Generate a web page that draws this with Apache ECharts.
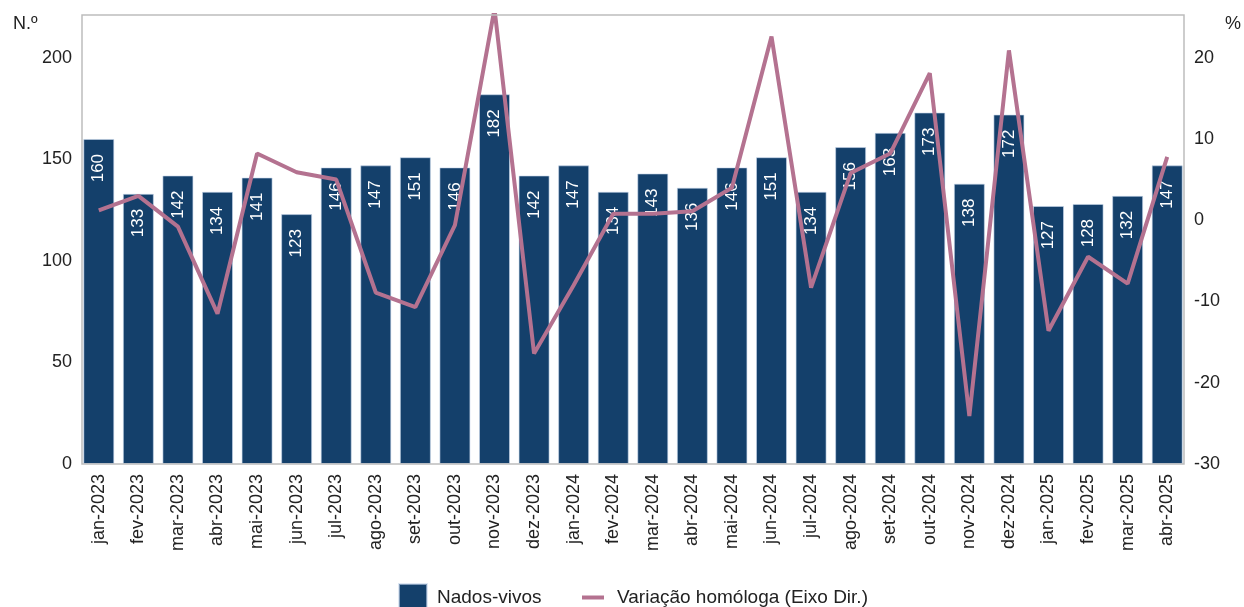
<!DOCTYPE html>
<html lang="pt">
<head>
    <meta charset="UTF-8">
    <title>Nados-vivos</title>
    <script src="https://cdn.jsdelivr.net/npm/echarts@6/dist/echarts.min.js"></script>
    <style>
        html, body { margin: 0; padding: 0; background: #fff; }
        #chart { width: 1244px; height: 607px; }
    </style>
</head>
<body>
<div id="chart"></div>
<script>
    // meses
    var meses = ['jan-2023', 'fev-2023', 'mar-2023', 'abr-2023', 'mai-2023', 'jun-2023', 'jul-2023',
        'ago-2023', 'set-2023', 'out-2023', 'nov-2023', 'dez-2023', 'jan-2024', 'fev-2024',
        'mar-2024', 'abr-2024', 'mai-2024', 'jun-2024', 'jul-2024', 'ago-2024', 'set-2024',
        'out-2024', 'nov-2024', 'dez-2024', 'jan-2025', 'fev-2025', 'mar-2025', 'abr-2025'];
    // nados-vivos (eixo esq.)
    var nadosVivos = [160, 133, 142, 134, 141, 123, 146, 147, 151, 146, 182, 142, 147, 134,
        143, 136, 146, 151, 134, 156, 163, 173, 138, 172, 127, 128, 132, 147];
    // variacao homologa % (eixo dir.)
    var variacao = [1.2, 3.0, -0.8, -11.5, 8.2, 5.9, 5.0, -8.9, -10.7, -0.6, 26, -16.4, -8.0, 0.8,
        0.8, 1.1, 4.0, 22.6, -8.3, 5.8, 8.2, 18.1, -24.1, 20.9, -13.6, -4.5, -7.8, 7.8];

    var corBarra = '#14406b';
    var corLinha = '#b47290';
    var corEixo = '#bdbdbd';
    var fonte = 'Liberation Sans, Arial, sans-serif';

    var chart = echarts.init(document.getElementById('chart'));
    var option = {
        animation: false,
        textStyle: { fontFamily: fonte },
        // grelha um pouco mais larga que a moldura, como no original
        grid: { left: 79, right: 57, top: 15, bottom: 143 },
        graphic: [
            { type: 'rect', shape: { x: 82, y: 15, width: 1102, height: 449 },
              style: { fill: 'none', stroke: corEixo, lineWidth: 1.5 }, z: 10 },
            { type: 'text', left: 13, top: 15, style: { text: 'N.º', font: '18px ' + fonte, fill: '#222' } },
            { type: 'text', left: 1225, top: 15, style: { text: '%', font: '18px ' + fonte, fill: '#222' } }
        ],
        legend: [{
            data: [{ name: 'Nados-vivos', icon: 'rect' }],
            left: 398, top: 583, padding: 0,
            itemWidth: 28, itemHeight: 28,
            textStyle: { fontSize: 19, color: '#222', fontFamily: fonte, padding: [0, 0, 0, 5] },
            selectedMode: false
        }, {
            data: [{ name: 'Variação homóloga (Eixo Dir.)', icon: 'rect' }],
            left: 582, top: 588, padding: 0,
            itemWidth: 22, itemHeight: 4,
            textStyle: { fontSize: 19, color: '#222', fontFamily: fonte, padding: [0, 0, 0, 8] },
            selectedMode: false
        }],
        xAxis: {
            type: 'category',
            data: meses,
            axisLine: { show: false },
            axisTick: { show: false },
            axisLabel: { rotate: 90, margin: 10, fontSize: 18, color: '#222', fontFamily: fonte }
        },
        yAxis: [{
            type: 'value',
            min: 0, max: 221, interval: 50,
            splitLine: { show: false },
            axisLine: { show: false },
            axisTick: { show: false },
            axisLabel: { showMaxLabel: false, margin: 7, fontSize: 18, color: '#222', fontFamily: fonte }
        }, {
            type: 'value',
            min: -30, max: 25.25, interval: 10,
            splitLine: { show: false },
            axisLine: { show: false },
            axisTick: { show: false },
            axisLabel: { showMaxLabel: false, margin: 7, fontSize: 18, color: '#222', fontFamily: fonte }
        }],
        series: [{
            name: 'Nados-vivos',
            type: 'bar',
            data: nadosVivos,
            barWidth: 31,
            itemStyle: { color: corBarra, borderColor: 'rgba(200,215,235,0.6)', borderWidth: 1 },
            label: {
                show: true,
                position: 'insideTop',
                rotate: 90,
                align: 'right',
                verticalAlign: 'middle',
                distance: 15,
                color: '#fff',
                fontSize: 17,
                fontFamily: fonte
            }
        }, {
            name: 'Variação homóloga (Eixo Dir.)',
            type: 'line',
            yAxisIndex: 1,
            data: variacao,
            symbol: 'none',
            clip: true,
            lineStyle: { color: corLinha, width: 4 },
            itemStyle: { color: corLinha }
        }]
    };
    chart.setOption(option);
</script>
</body>
</html>
